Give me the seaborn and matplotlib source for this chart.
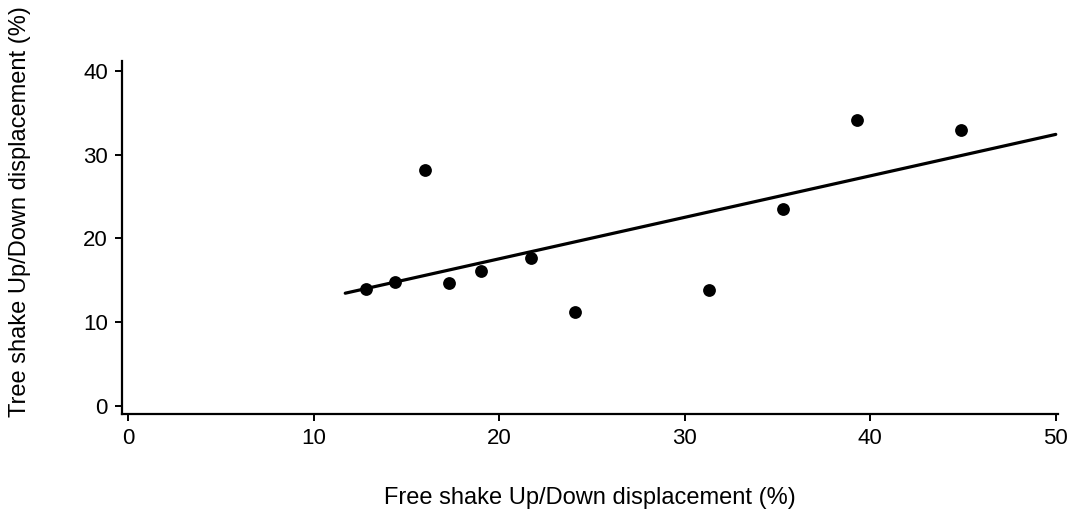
import numpy as np
import pandas as pd
import seaborn as sns
import matplotlib
matplotlib.use("Agg")
import matplotlib.pyplot as plt

sns.set_style("ticks")
plt.rcParams['font.family'] = ['Liberation Sans', 'DejaVu Sans']

# values
free_shake = [12.8, 14.4, 16.0, 17.3, 19.0, 21.7, 24.1, 31.3, 35.3, 39.3, 44.9]
tree_shake = [13.9, 14.8, 28.2, 14.7, 16.1, 17.7, 11.2, 13.8, 23.5, 34.2, 32.9]
fit_range = [11.7, 50.0]
x_ticks = [0, 10, 20, 30, 40, 50]
y_ticks = [0, 10, 20, 30, 40]

df = pd.DataFrame({"free": free_shake, "tree": tree_shake})

fig = plt.figure(figsize=(10.77, 5.12), dpi=100)
ax = fig.add_axes([0.113, 0.191, 0.869, 0.690])

sns.scatterplot(data=df, x="free", y="tree", color="black", s=85,
                edgecolor="black", linewidth=0, ax=ax, zorder=3)

# least squares line, drawn over the range shown in the original
slope, intercept = np.polyfit(df["free"], df["tree"], 1)
line_x = np.array(fit_range)
sns.lineplot(x=line_x, y=slope * line_x + intercept, color="black",
             linewidth=2.3, ax=ax, estimator=None)

ax.set_xlim(-0.35, 50.1)
ax.set_ylim(-1.0, 41.2)
ax.set_xticks(x_ticks)
ax.set_yticks(y_ticks)
sns.despine(ax=ax)
for s in ["left", "bottom"]:
    ax.spines[s].set_linewidth(1.6)
    ax.spines[s].set_color("black")
ax.tick_params(axis="both", length=5, width=1.4, color="black",
               labelsize=16, labelcolor="black", pad=5)

ax.set_xlabel("Free shake Up/Down displacement (%)", fontsize=17, color="black")
ax.set_ylabel("Tree shake Up/Down displacement (%)", fontsize=17, color="black")
ax.xaxis.set_label_coords(0.5, -0.205)
ax.yaxis.set_label_coords(-0.097, 0.575)

fig.savefig("out.png", dpi=100)
